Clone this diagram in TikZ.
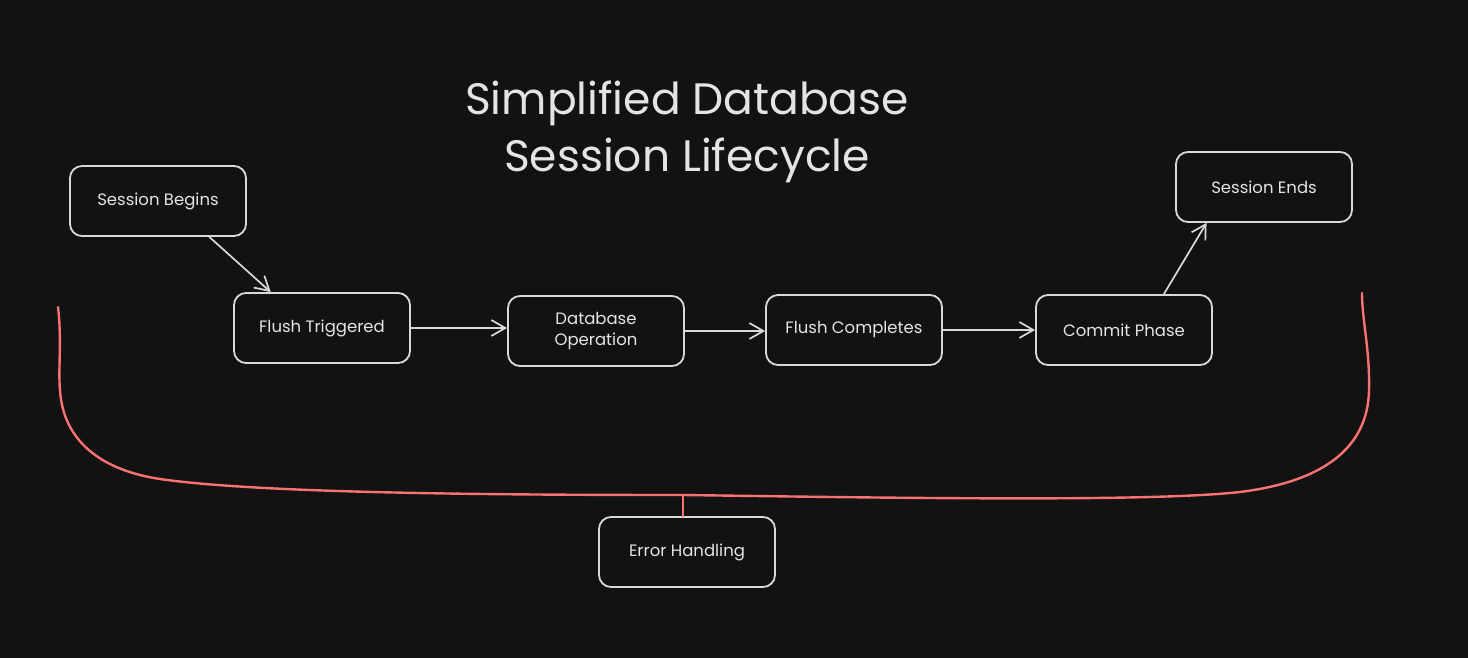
\documentclass[tikz,border=0pt]{standalone}
\usepackage{fontspec}
\setmainfont{Poppins}
\usetikzlibrary{arrows.meta,calc}
\definecolor{bg}{HTML}{121212}
\definecolor{ink}{HTML}{D9D9D9}
\definecolor{txt}{HTML}{E4E4E4}
\definecolor{redline}{HTML}{FA7272}
\tikzset{
  box/.style={draw=ink, line width=1.8pt, rounded corners=12pt, fill=bg,
    minimum width=176pt, minimum height=70pt, text=txt, align=center,
    font=\fontsize{16.5}{21}\selectfont, inner sep=0pt},
  flow/.style={draw=ink, line width=1.7pt, -{Straight Barb[length=14pt,width=16pt,line width=1.7pt]}},
  bracepath/.style={draw=redline, line width=2.4pt, line cap=round},
  titletext/.style={text=txt, align=center, font=\fontsize{44}{57}\selectfont}
}
\begin{document}
\begin{tikzpicture}[x=1pt,y=-1pt]
\fill[bg] (0,0) rectangle (1468,658);
\useasboundingbox (0,0) rectangle (1468,658);

\node[titletext] (title) at (687,132) {Simplified Database\\Session Lifecycle};

\node[box] (sb) at (158,201) {Session Begins};
\node[box] (ft) at (322,328) {Flush Triggered};
\node[box] (db) at (596,331) {Database\\Operation};
\node[box] (fc) at (854,330) {Flush Completes};
\node[box] (cp) at (1124,330) {Commit Phase};
\node[box] (se) at (1264,187) {Session Ends};
\node[box] (eh) at (687,552) {Error Handling};

\draw[flow] (sb.-35) -- (ft.145);
\draw[flow] (ft.east) -- (ft.east -| db.west);
\draw[flow] (db.east) -- (db.east -| fc.west);
\draw[flow] (fc.east) -- (fc.east -| cp.west);
\draw[flow] (cp.42) -- (se.212);

\coordinate (j) at (683,495);
\draw[bracepath] (58,307) .. controls (62,340) and (58,370) .. (60,390)
  .. controls (63,440) and (100,470) .. (160,479)
  .. controls (250,492) and (450,495) .. (j)
  .. controls (900,498) and (1150,502) .. (1240,492)
  .. controls (1320,482) and (1368,450) .. (1369,390)
  .. controls (1370,350) and (1362,320) .. (1362,293);
\draw[bracepath] (j) -- (j |- eh.north);
\end{tikzpicture}
\end{document}
